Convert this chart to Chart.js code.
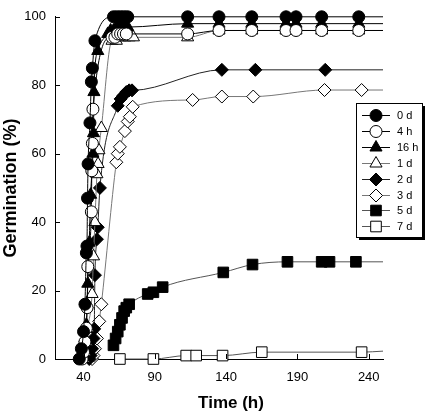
<!DOCTYPE html>
<html lang="en">
<head>
<meta charset="UTF-8">
<title>Germination</title>
<script src="https://cdn.jsdelivr.net/npm/chart.js"></script>
<style>
  html, body { margin: 0; padding: 0; background: #fff; }
  #wrap { width: 427px; height: 413px; position: relative; }
</style>
</head>
<body>
<div id="wrap"><canvas id="germChart"></canvas></div>
<script>
// treatments, in legend order
const seriesNames = ['0 d', '4 h', '16 h', '1 d', '2 d', '3 d', '5 d', '7 d'];
const xTicks = [40, 90, 140, 190, 240];
const yTicks = [0, 20, 40, 60, 80, 100];

// time (h) and germination (%)
const t0d = [37, 38.5, 40, 41, 42, 42.4, 42.8, 43.2, 44.5, 45.5, 46.2, 48, 61, 63, 65, 67, 69, 71, 113, 135, 158, 182, 189, 207, 233];
const g0d = [0, 3, 8, 16, 31, 33, 47, 57, 69, 81, 85, 93, 100, 100, 100, 100, 100, 100, 100, 100, 100, 100, 100, 100, 100];
const t4h = [39, 40, 41, 42, 42.5, 43, 45.5, 45.8, 46.2, 46.6, 60, 62, 64, 66, 68, 70, 113, 135, 158, 182, 189, 207, 233];
const g4h = [0, 2, 5, 9, 15, 27, 43, 55, 63, 73, 94, 94, 95, 95, 95, 95, 95, 96, 96, 96, 96, 96, 96];
const t16h = [38.5, 40, 41, 42, 42.5, 43, 44, 45, 46.6, 47, 47.3, 50, 57, 59, 61, 63, 65, 67, 69, 71, 113, 135, 158, 182, 189, 207, 233];
const g16h = [0, 3, 6, 10, 16, 22, 34, 48, 60, 66, 78, 90, 95, 96, 96, 97, 97, 97, 97, 97, 98, 98, 98, 98, 98, 98, 98];
const t1d = [40, 41, 42, 43, 46, 47, 48, 49.4, 50.2, 50.8, 52.5, 60, 63, 66, 69, 72, 75, 113, 135, 158, 182, 189, 207, 233];
const g1d = [0, 2, 5, 9, 19, 30, 40, 54, 57, 61, 67.5, 93, 93, 94, 94, 94, 94, 94, 96, 96, 96, 96, 96, 96];
const t2d = [44, 45, 46, 47, 47.5, 48, 49.4, 50, 51.5, 64, 66, 68, 70, 72, 74, 137, 160.5, 209.5];
const g2d = [0, 1, 3, 6, 8.8, 24.5, 35, 38.5, 50, 74, 76, 77, 78, 78.5, 78.5, 84.5, 84.5, 84.5];
const t3d = [46, 47, 48, 49.4, 51, 52.5, 63, 64, 65.5, 69, 71, 72.5, 74.5, 116.5, 137, 159, 209, 235];
const g3d = [0, 1, 3, 6, 11, 16, 57.5, 60, 62, 66.6, 69.4, 70.8, 73.7, 75.7, 76.7, 76.7, 78.6, 78.6];
const t5d = [61, 62.5, 64, 65.5, 67, 68.5, 70, 72, 85, 89, 95.5, 138, 158.5, 183, 207, 212.5, 231];
const g5d = [4, 6, 8, 10, 12, 14, 15, 16, 19, 19.5, 21, 25.3, 27.6, 28.4, 28.4, 28.4, 28.4];
const t7d = [65.5, 89, 112, 119, 137.5, 165, 235];
const g7d = [0, 0, 1, 1, 1, 2, 2];

// level at which each fitted line leaves the plot (250 h)
const lineEnd = [100, 96, 98, 96, 84.5, 78.6, 28.4, 2.3];

const times = [t0d, t4h, t16h, t1d, t2d, t3d, t5d, t7d];
const germ = [g0d, g4h, g16h, g1d, g2d, g3d, g5d, g7d];

// marker look per treatment
const styles = [
  { shape: 'circle',   r: 6,   fill: '#000', line: '#000' },
  { shape: 'circle',   r: 6,   fill: '#fff', line: '#000' },
  { shape: 'triangle', r: 7,   fill: '#000', line: '#000' },
  { shape: 'triangle', r: 7,   fill: '#fff', line: '#777' },
  { shape: 'rectRot',  r: 6.5, fill: '#000', line: '#222' },
  { shape: 'rectRot',  r: 6.5, fill: '#fff', line: '#777' },
  { shape: 'rect',     r: 7.5, fill: '#000', line: '#555' },
  { shape: 'rect',     r: 7.5, fill: '#fff', line: '#555' }
];

const datasets = seriesNames.map((name, i) => {
  const pts = times[i].map((t, j) => ({ x: t, y: germ[i][j] }));
  const last = pts.length;
  pts.push({ x: 250, y: lineEnd[i] });
  const s = styles[i];
  return {
    label: name,
    data: pts,
    showLine: true,
    borderColor: s.line,
    borderWidth: 1,
    tension: 0.4,
    cubicInterpolationMode: 'monotone',
    pointStyle: s.shape,
    pointRadius: ctx => ctx.dataIndex === last ? 0 : s.r,
    pointBackgroundColor: s.fill,
    pointBorderColor: '#000',
    pointBorderWidth: 1,
    clip: false
  };
});

const fontFamily = "'Liberation Sans', Arial, sans-serif";

// inward ticks, x-axis title and the boxed legend
const extras = {
  id: 'extras',
  afterDraw(chart) {
    const { ctx, chartArea: a, scales: { x, y } } = chart;
    ctx.save();
    ctx.strokeStyle = '#000';
    ctx.lineWidth = 1;
    ctx.beginPath();
    yTicks.forEach(v => {
      const py = Math.round(y.getPixelForValue(v)) + 0.5;
      ctx.moveTo(a.left, py);
      ctx.lineTo(a.left + 5, py);
    });
    xTicks.forEach(v => {
      const px = Math.round(x.getPixelForValue(v)) + 0.5;
      ctx.moveTo(px, a.bottom);
      ctx.lineTo(px, a.bottom - 5);
    });
    ctx.stroke();

    ctx.fillStyle = '#000';
    ctx.font = 'bold 17px ' + fontFamily;
    ctx.textAlign = 'center';
    ctx.textBaseline = 'alphabetic';
    ctx.fillText('Time (h)', 231, 408);

    // legend
    const L = 356, T = 103, W = 66, H = 134;
    ctx.fillStyle = '#000';
    ctx.fillRect(L + 3, T + 3, W, H);
    ctx.fillStyle = '#fff';
    ctx.fillRect(L, T, W, H);
    ctx.strokeRect(L + 0.5, T + 0.5, W, H);
    ctx.font = '11px ' + fontFamily;
    ctx.textAlign = 'left';
    ctx.textBaseline = 'middle';
    seriesNames.forEach((name, i) => {
      const s = styles[i];
      const ry = Math.round(T + 12 + i * 15.9) + 0.5;
      ctx.strokeStyle = s.line;
      ctx.beginPath();
      ctx.moveTo(L + 6, ry);
      ctx.lineTo(L + 34, ry);
      ctx.stroke();
      ctx.fillStyle = s.fill;
      ctx.strokeStyle = '#000';
      Chart.helpers.drawPoint(ctx, { pointStyle: s.shape, radius: s.r, rotation: 0, borderWidth: 1 }, L + 20, ry);
      ctx.fillStyle = '#000';
      ctx.fillText(name, L + 41, ry + 0.5);
    });
    ctx.restore();
  }
};

new Chart(document.getElementById('germChart'), {
  type: 'scatter',
  data: { datasets },
  options: {
    responsive: true,
    maintainAspectRatio: false,
    animation: false,
    layout: { padding: { top: 7, right: 44, left: 0, bottom: 0 } },
    plugins: { legend: { display: false }, tooltip: { enabled: false } },
    scales: {
      x: {
        type: 'linear',
        min: 20,
        max: 250,
        afterBuildTicks: scale => { scale.ticks = xTicks.map(v => ({ value: v })); },
        afterFit: scale => { scale.height = 54; },
        grid: { drawOnChartArea: false, drawTicks: false },
        border: { color: '#000', width: 1 },
        ticks: { padding: 11, color: '#000', font: { family: fontFamily, size: 13 } }
      },
      y: {
        min: 0,
        max: 100,
        afterBuildTicks: scale => { scale.ticks = yTicks.map(v => ({ value: v })); },
        afterFit: scale => { scale.width = 55; },
        grid: { drawOnChartArea: false, drawTicks: false },
        border: { color: '#000', width: 1 },
        ticks: { padding: 9, color: '#000', font: { family: fontFamily, size: 13 } },
        title: {
          display: true,
          text: 'Germination (%)',
          color: '#000',
          padding: 0,
          font: { family: fontFamily, size: 18, weight: 'bold' }
        }
      }
    }
  },
  plugins: [extras]
});
</script>
</body>
</html>
